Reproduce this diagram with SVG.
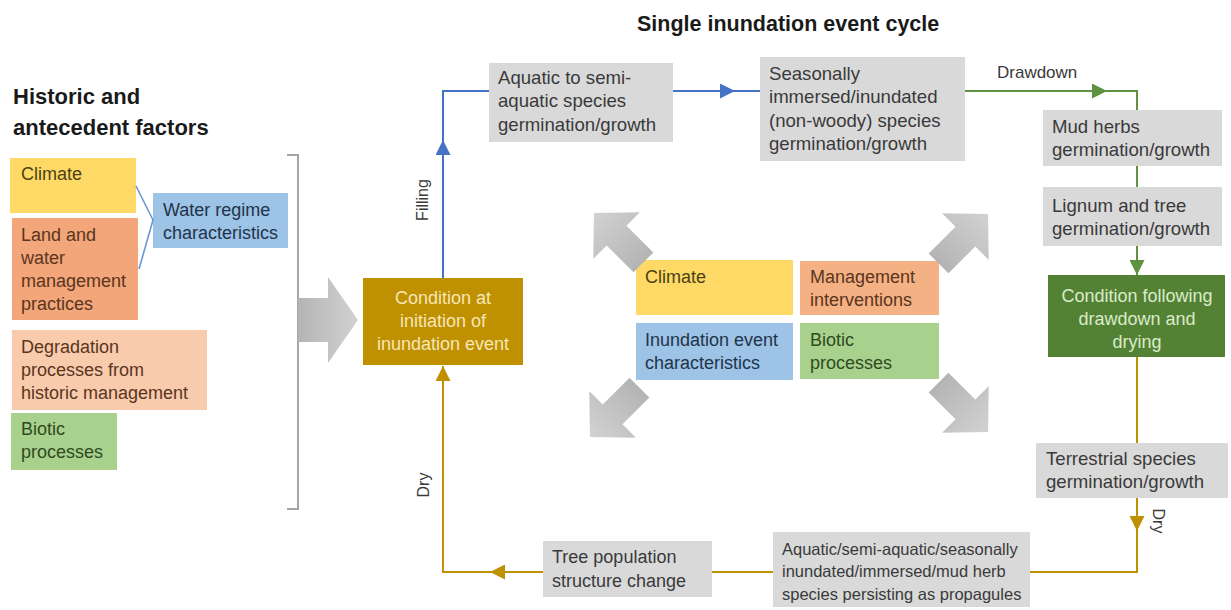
<svg xmlns="http://www.w3.org/2000/svg" width="1231" height="610" viewBox="0 0 1231 610">
<style>
text{font-family:"Liberation Sans",Arial,sans-serif;font-size:18px;fill:#3a3a3a}
.h{font-weight:bold;font-size:21.5px;fill:#1a1a1a}
.hl{font-weight:bold;font-size:22px;fill:#1a1a1a}
.sm{font-size:16.5px}
.md{font-size:18.6px}
.gray{fill:#d9d9d9}
.yel{fill:#ffd966}
.org{fill:#f2a679}
.org2{fill:#f4b183}
.peach{fill:#f8cbad}
.blue{fill:#9dc3e6}
.grn{fill:#a9d18e}
.gold{fill:#bf9000}
.dgrn{fill:#548235}
.ty{fill:#4a4215}
.to{fill:#5a3520}
.tb{fill:#22344a}
.tg{fill:#2f4a1f}
.tw1{fill:#f6e6b8;text-anchor:middle}
.tw2{fill:#d9ecc9;text-anchor:middle}
.lb{stroke:#4472c4;stroke-width:2;fill:none}
.lg{stroke:#5e9140;stroke-width:2;fill:none}
.ly{stroke:#bf9000;stroke-width:2;fill:none}
.big{fill:url(#gg)}
</style>
<defs>
<linearGradient id="gg" x1="0" y1="0" x2="1" y2="0">
<stop offset="0" stop-color="#b4b4b4"/>
<stop offset="1" stop-color="#d2d2d2"/>
</linearGradient>
<marker id="mb" viewBox="0 0 10 10" refX="10" refY="5" markerWidth="15" markerHeight="15" markerUnits="userSpaceOnUse" orient="auto"><path d="M0,0 L10,5 L0,10 z" fill="#4472c4"/></marker>
<marker id="mg" viewBox="0 0 10 10" refX="10" refY="5" markerWidth="15" markerHeight="15" markerUnits="userSpaceOnUse" orient="auto"><path d="M0,0 L10,5 L0,10 z" fill="#5e9140"/></marker>
<marker id="my" viewBox="0 0 10 10" refX="10" refY="5" markerWidth="15" markerHeight="15" markerUnits="userSpaceOnUse" orient="auto"><path d="M0,0 L10,5 L0,10 z" fill="#bf9000"/></marker>
<path id="da" d="M-36,-14 L2,-14 L2,-33 L34,0 L2,33 L2,14 L-36,14 z"/>
</defs>

<!-- titles -->
<text class="h" x="637" y="31">Single inundation event cycle</text>
<text class="hl" x="13" y="104">Historic and</text>
<text class="hl" x="13" y="135">antecedent factors</text>

<!-- left column -->
<g id="left-climate"><rect class="yel" x="10" y="158" width="126" height="55"/><text class="ty" x="21" y="180">Climate</text></g>
<g id="left-land"><rect class="org" x="12" y="218" width="126" height="102"/><text class="to" x="21" y="241">Land and</text><text class="to" x="21" y="264">water</text><text class="to" x="21" y="287">management</text><text class="to" x="21" y="310">practices</text></g>
<g id="water-regime"><rect class="blue" x="153" y="193" width="135" height="55"/><text class="tb" x="163" y="216">Water regime</text><text class="tb" x="163" y="239">characteristics</text></g>
<g id="degradation"><rect class="peach" x="12" y="330" width="195" height="80"/><text class="to" x="21" y="353">Degradation</text><text class="to" x="21" y="376">processes  from</text><text class="to" x="21" y="399">historic management</text></g>
<g id="left-biotic"><rect class="grn" x="11" y="413" width="106" height="57"/><text class="tg" x="21" y="435">Biotic</text><text class="tg" x="21" y="458">processes</text></g>

<!-- bracket and big arrow -->
<path d="M287,155 H298 V509 H287" stroke="#a6a6a6" stroke-width="2" fill="none"/>
<polygon class="big" points="298,298 328,298 328,277 358,320 328,363 328,342 298,342"/>

<!-- cycle nodes -->
<g id="cond-init"><rect class="gold" x="363" y="278" width="160" height="87"/><text class="tw1" x="443" y="304">Condition at</text><text class="tw1" x="443" y="327">initiation of</text><text class="tw1" x="443" y="350">inundation event</text></g>
<g id="aquatic"><rect class="gray" x="489" y="63" width="184" height="79"/><text class="md" x="498" y="84">Aquatic to semi-</text><text class="md" x="498" y="107">aquatic species</text><text class="md" x="498" y="131">germination/growth</text></g>
<g id="seasonal"><rect class="gray" x="760" y="57" width="205" height="104"/><text class="md" x="769" y="80">Seasonally</text><text class="md" x="769" y="103">immersed/inundated</text><text class="md" x="769" y="127">(non-woody) species</text><text class="md" x="769" y="150">germination/growth</text></g>
<g id="mud"><rect class="gray" x="1043" y="110" width="179" height="56"/><text class="md" x="1052" y="133">Mud herbs</text><text class="md" x="1052" y="156">germination/growth</text></g>
<g id="lignum"><rect class="gray" x="1043" y="187" width="179" height="59"/><text class="md" x="1052" y="212">Lignum and tree</text><text class="md" x="1052" y="235">germination/growth</text></g>
<g id="cond-follow"><rect class="dgrn" x="1048" y="275" width="177" height="82"/><text class="tw2" x="1137" y="302">Condition following</text><text class="tw2" x="1137" y="325">drawdown and</text><text class="tw2" x="1137" y="348">drying</text></g>
<g id="terrestrial"><rect class="gray" x="1036" y="443" width="192" height="55"/><text class="md" x="1046" y="465">Terrestrial  species</text><text class="md" x="1046" y="488">germination/growth</text></g>
<g id="persisting"><rect class="gray" x="773" y="532" width="257" height="75"/><text class="sm" x="782" y="555">Aquatic/semi-aquatic/seasonally</text><text class="sm" x="782" y="577">inundated/immersed/mud herb</text><text class="sm" x="782" y="600">species persisting as propagules</text></g>
<g id="tree"><rect class="gray" x="543" y="541" width="169" height="56"/><text x="552" y="563">Tree population</text><text x="552" y="587">structure change</text></g>

<!-- central factors -->
<g id="c-climate"><rect class="yel" x="636" y="260" width="157" height="55"/><text class="ty" x="645" y="283">Climate</text></g>
<g id="c-management"><rect class="org2" x="800" y="261" width="139" height="54"/><text class="to" x="810" y="283">Management</text><text class="to" x="810" y="306">interventions</text></g>
<g id="c-inundation"><rect class="blue" x="636" y="323" width="157" height="57"/><text class="tb" x="645" y="346">Inundation event</text><text class="tb" x="645" y="369">characteristics</text></g>
<g id="c-biotic"><rect class="grn" x="800" y="323" width="139" height="56"/><text class="tg" x="810" y="346">Biotic</text><text class="tg" x="810" y="369">processes</text></g>

<!-- diagonal arrows -->
<use href="#da" class="big" transform="translate(618,237) rotate(-135)"/>
<use href="#da" class="big" transform="translate(964,238) rotate(-45)"/>
<use href="#da" class="big" transform="translate(614,413) rotate(135)"/>
<use href="#da" class="big" transform="translate(964,408) rotate(45)"/>

<!-- connectors -->
<g id="connectors">
<path d="M136,186 L153,220 L139,269" stroke="#6d95d6" stroke-width="1.6" fill="none"/>
<path class="lb" d="M443,278 V140" marker-end="url(#mb)"/>
<path class="lb" d="M443,142 V91 H489"/>
<path class="lb" d="M673,91 H735" marker-end="url(#mb)"/>
<path class="lb" d="M733,91 H760"/>
<path class="lg" d="M965,91 H1107" marker-end="url(#mg)"/>
<path class="lg" d="M1105,91 H1137 V110"/>
<path class="lg" d="M1137,166 V187"/>
<path class="lg" d="M1137,246 V275" marker-end="url(#mg)"/>
<path class="ly" d="M1137,357 V443"/>
<path class="ly" d="M1137,498 V531" marker-end="url(#my)"/>
<path class="ly" d="M1137,529 V572 H1030"/>
<path class="ly" d="M773,572 H712"/>
<path class="ly" d="M543,572 H490" marker-end="url(#my)"/>
<path class="ly" d="M492,572 H443 V366" marker-end="url(#my)"/>
</g>

<!-- connector labels -->
<text x="997" y="78" style="font-size:17px">Drawdown</text>
<text transform="translate(428,200) rotate(-90)" style="font-size:16px;text-anchor:middle">Filling</text>
<text transform="translate(429,485) rotate(-90)" style="font-size:16px;text-anchor:middle">Dry</text>
<text transform="translate(1153,521) rotate(90)" style="font-size:16px;text-anchor:middle">Dry</text>
</svg>
